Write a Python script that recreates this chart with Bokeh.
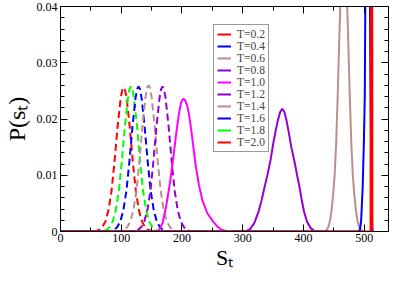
from bokeh.plotting import figure
from bokeh.models import (LinearAxis, FixedTicker, CustomJSTickFormatter, Range1d,
                          Legend, LegendItem)
from bokeh.embed import file_html
from bokeh.resources import INLINE

# ---- data ----
labels = ["T=0.2", "T=0.4", "T=0.6", "T=0.8", "T=1.0",
          "T=1.2", "T=1.4", "T=1.6", "T=1.8", "T=2.0"]
colors = ["#FF0000", "#0000FF", "#BC8F8F", "#9400D3", "#FF00FF",
          "#9400D3", "#BC8F8F", "#0000FF", "#00FF00", "#FF0000"]
dashed = [False, False, False, False, False, True, True, True, True, True]

t02_x = [0, 510.5, 511.8, 512.2, 513.5]
t02_y = [0, 0, 0.2, 0.2, 0]

t04_x = [0, 490, 493, 495, 497.5, 499.5, 501, 501.8, 503, 505, 506.5, 508,
         509.5, 510.5, 511.5, 512.5, 513.3, 514]
t04_y = [0, 0, 0.0003, 0.0020, 0.0079, 0.0160, 0.0244, 0.0400, 0.0700, 0.1100,
         0.1200, 0.1050, 0.0400, 0.0250, 0.0120, 0.0040, 0.0005, 0]

t06_x = [0, 434.3, 438.3, 441.3, 443.8, 446.3, 448.8, 451.3, 453.8, 456.3, 458.8,
         461.3, 463.8, 466.3, 468.8, 471.3, 473.8, 476.3, 478.8, 481.3, 483.8,
         486.3, 488.8, 491.3, 494.3, 498.3]
t06_y = [0, 0, 0.0003, 0.0009, 0.0020, 0.0038, 0.0065, 0.0100, 0.0156, 0.0240,
         0.0335, 0.0425, 0.0490, 0.0514, 0.0490, 0.0425, 0.0335, 0.0240, 0.0156,
         0.0100, 0.0065, 0.0038, 0.0020, 0.0009, 0.0003, 0]

t08_x = [0, 305, 312, 319, 326, 331, 336, 341, 346, 350, 354, 358, 361.5, 365,
         368.5, 372, 375.5, 380, 385.5, 389.5, 393.5, 397, 401, 406, 412, 418, 425]
t08_y = [0, 0, 0.0004, 0.0015, 0.0035, 0.0055, 0.0079, 0.0102, 0.0128, 0.0155,
         0.0178, 0.0198, 0.0212, 0.0218, 0.0213, 0.0198, 0.0178, 0.0150, 0.0123,
         0.0100, 0.0079, 0.0057, 0.0035, 0.0017, 0.0006, 0.0001, 0]

t10_x = [0, 155, 162, 168, 174, 180, 185, 190, 195, 199, 202, 205, 209, 212, 216,
         222.5, 228, 234, 242, 251, 258, 265, 275]
t10_y = [0, 0, 0.0002, 0.0015, 0.0045, 0.0085, 0.0125, 0.0170, 0.0210, 0.0231,
         0.0236, 0.0234, 0.0222, 0.0205, 0.0174, 0.0118, 0.0082, 0.0054, 0.0032,
         0.0018, 0.0009, 0.0003, 0]

t12_x = [0, 116, 123, 128, 133, 138, 143, 148, 153, 158, 163, 165.5, 168, 170.5,
         173, 178, 183, 188, 193, 198, 203, 208, 213, 220]
t12_y = [0, 0, 0.0001, 0.0003, 0.0008, 0.0018, 0.0038, 0.0072, 0.0125, 0.0187,
         0.0237, 0.0253, 0.0258, 0.0253, 0.0237, 0.0187, 0.0125, 0.0072, 0.0038,
         0.0018, 0.0008, 0.0003, 0.0001, 0]

t14_x = [0, 93, 100, 105, 110, 115, 120, 125, 130, 135, 140, 142.5, 145, 147.5,
         150, 155, 160, 165, 170, 175, 180, 185, 190, 197]
t14_y = [0, 0, 0.0001, 0.0003, 0.0008, 0.0018, 0.0038, 0.0072, 0.0126, 0.0188,
         0.0239, 0.0255, 0.0260, 0.0255, 0.0239, 0.0188, 0.0126, 0.0072, 0.0038,
         0.0018, 0.0008, 0.0003, 0.0001, 0]

t16_x = [0, 76.5, 83.5, 88.5, 93.5, 98.5, 103.5, 108.5, 113.5, 118.5, 123.5, 126,
         128.5, 131, 133.5, 138.5, 143.5, 148.5, 153.5, 158.5, 163.5, 168.5, 173.5,
         180.5]
t16_y = [0, 0, 0.0001, 0.0003, 0.0008, 0.0018, 0.0038, 0.0072, 0.0125, 0.0187,
         0.0237, 0.0253, 0.0258, 0.0253, 0.0237, 0.0187, 0.0125, 0.0072, 0.0038,
         0.0018, 0.0008, 0.0003, 0.0001, 0]

t18_x = [0, 64, 71, 76, 81, 86, 91, 96, 101, 106, 111, 113.5, 116, 118.5, 121,
         126, 131, 136, 141, 146, 151, 156, 161, 168]
t18_y = [0, 0, 0.0001, 0.0003, 0.0008, 0.0018, 0.0038, 0.0072, 0.0125, 0.0187,
         0.0237, 0.0253, 0.0258, 0.0253, 0.0237, 0.0187, 0.0125, 0.0072, 0.0038,
         0.0018, 0.0008, 0.0003, 0.0001, 0]

t20_x = [0, 52, 59, 64, 69, 74, 79, 84, 89, 94, 99, 101.5, 104, 106.5, 109, 114,
         119, 124, 129, 134, 139, 144, 149, 156]
t20_y = [0, 0, 0.0001, 0.0003, 0.0008, 0.0018, 0.0038, 0.0072, 0.0125, 0.0186,
         0.0236, 0.0251, 0.0256, 0.0251, 0.0236, 0.0186, 0.0125, 0.0072, 0.0038,
         0.0018, 0.0008, 0.0003, 0.0001, 0]

series_x = [t02_x, t04_x, t06_x, t08_x, t10_x, t12_x, t14_x, t16_x, t18_x, t20_x]
series_y = [t02_y, t04_y, t06_y, t08_y, t10_y, t12_y, t14_y, t16_y, t18_y, t20_y]

x_ticks = [0, 100, 200, 300, 400, 500]
x_minor = [50, 150, 250, 350, 450]
y_ticks = [0, 0.01, 0.02, 0.03, 0.04]
y_minor = [0.002, 0.004, 0.006, 0.008, 0.012, 0.014, 0.016, 0.018,
           0.022, 0.024, 0.026, 0.028, 0.032, 0.034, 0.036, 0.038]

x_title = "S\u209c"
y_title = "P(s\u209c)"

SERIF = "Liberation Serif"

p = figure(width=391, height=272, x_range=Range1d(0, 540), y_range=Range1d(0, 0.04),
           output_backend="svg", toolbar_location=None,
           min_border_left=58, min_border_right=3, min_border_top=6,
           min_border_bottom=40)
p.xgrid.visible = False
p.ygrid.visible = False
p.outline_line_color = "black"
p.outline_line_width = 1


def style_axis(ax, show_labels=True):
    ax.axis_line_color = "black"
    ax.axis_line_width = 1
    ax.major_tick_line_color = "black"
    ax.minor_tick_line_color = "black"
    ax.major_tick_in = 7
    ax.major_tick_out = 0
    ax.minor_tick_in = 4
    ax.minor_tick_out = 0
    ax.major_label_text_font = SERIF
    ax.major_label_text_color = "black"
    ax.major_label_standoff = 3
    if show_labels:
        ax.major_label_text_font_size = "12px"
    else:
        ax.major_label_text_font_size = "0px"
        ax.major_label_standoff = 0
        ax.formatter = CustomJSTickFormatter(code="return '';")


xa = p.xaxis[0]
xa.ticker = FixedTicker(ticks=x_ticks, minor_ticks=x_minor)
style_axis(xa)
xa.major_label_standoff = 2
xa.axis_label = x_title
xa.axis_label_text_font = SERIF
xa.axis_label_text_font_size = "22px"
xa.axis_label_text_font_style = "normal"
xa.axis_label_text_color = "black"
xa.axis_label_standoff = 0

ya = p.yaxis[0]
ya.ticker = FixedTicker(ticks=y_ticks, minor_ticks=y_minor)
style_axis(ya)
ya.formatter = CustomJSTickFormatter(code="return tick == 0 ? '0' : tick.toFixed(2);")
ya.axis_label = y_title
ya.axis_label_text_font = SERIF
ya.axis_label_text_font_size = "24px"
ya.axis_label_text_font_style = "normal"
ya.axis_label_text_color = "black"
ya.axis_label_standoff = 4

top = LinearAxis(ticker=FixedTicker(ticks=x_ticks, minor_ticks=x_minor))
style_axis(top, show_labels=False)
p.add_layout(top, "above")
right = LinearAxis(ticker=FixedTicker(ticks=y_ticks, minor_ticks=y_minor))
style_axis(right, show_labels=False)
p.add_layout(right, "right")

# draw T=2.0 first so T=0.2 ends on top
for i in reversed(range(len(labels))):
    p.line(series_x[i], series_y[i], line_color=colors[i], line_width=2,
           line_dash="7 4" if dashed[i] else "solid")

nan = float("nan")
items = []
for i in range(len(labels)):
    r = p.line([nan], [nan], line_color=colors[i], line_width=2)
    items.append(LegendItem(label=labels[i], renderers=[r]))

legend = Legend(items=items, location=(153, 79))
legend.label_text_font = SERIF
legend.label_text_font_size = "11.5px"
legend.glyph_width = 14
legend.glyph_height = 10
legend.label_height = 10
legend.spacing = 0
legend.padding = 3
legend.margin = 0
legend.label_standoff = 6
legend.border_line_color = "#333333"
legend.border_line_width = 1
legend.background_fill_alpha = 1
p.add_layout(legend)

open("out.html", "w").write(file_html(p, INLINE))
